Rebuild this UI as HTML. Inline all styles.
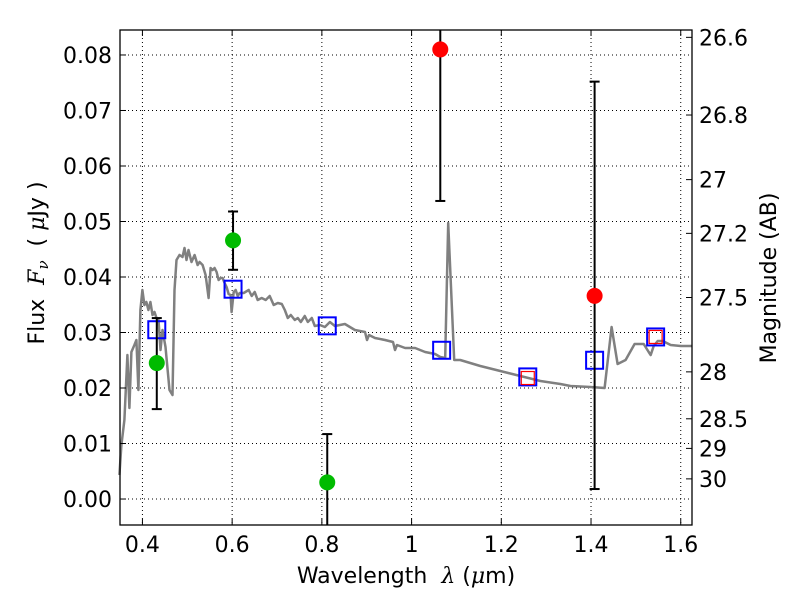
<!DOCTYPE html>
<html><head><meta charset="utf-8"><style>
body{margin:0;background:#fff;}
svg{display:block;font-family:"DejaVu Sans","Liberation Sans",sans-serif;}
</style></head><body>
<svg id="chart" width="800" height="600"></svg>
<script>
// ---- data ----
const xTicks=[0.4,0.6,0.8,1.0,1.2,1.4,1.6];
const xTickLabels=["0.4","0.6","0.8","1","1.2","1.4","1.6"];
const yTicks=[0,0.01,0.02,0.03,0.04,0.05,0.06,0.07,0.08];
const yTickLabels=["0.00","0.01","0.02","0.03","0.04","0.05","0.06","0.07","0.08"];
const magTicks=[26.6,26.8,27,27.2,27.5,28,28.5,29,30];
const magTickLabels=["26.6","26.8","27","27.2","27.5","28","28.5","29","30"];
// SED template curve, pixel-read then converted (lambda um, flux uJy)
const sedPx=[[120,475],[122,445],[125,420],[128,355],[130,408],[132,352],[135,345],[137,340],[139,390],[141,310],[143,290],[145,305],[147,302],[149,310],[151,302],[153,315],[155,312],[157,318],[159,320],[161,350],[163,330],[166,347],[170,390],[173,395],[175,290],[177,260],[180,255],[183,257],[185,248],[187,260],[189,250],[192,262],[195,255],[198,265],[200,262],[203,265],[206,275],[209,298],[211,268],[213,270],[215,268],[217,272],[219,280],[221,278],[223,278],[225,283],[227,287],[229,294],[231,295],[232,312],[234,292],[236,290],[238,296],[240,293],[244,293],[249,290],[252,296],[255,292],[258,300],[262,298],[266,300],[270,296],[274,305],[278,303],[282,304],[285,310],[288,318],[291,315],[295,320],[298,318],[301,322],[305,316],[308,322],[312,318],[315,326],[320,325],[325,327],[330,322],[335,326],[340,325],[345,324],[355,330],[360,331],[365,332],[367,340],[369,335],[375,338],[385,340],[393,342],[395,350],[397,345],[405,348],[415,348],[425,352],[435,354],[440,357],[445,358],[448,223],[454,360],[460,360],[480,366],[500,371],[520,376],[540,381],[560,384],[570,386],[590,387],[604,388],[611,327],[617,364],[625,360],[634,344],[643,344],[648,352],[650,355],[653,346],[657,341],[662,341],[670,345],[680,346],[691,346]];
const sedLambda=sedPx.map(p=>(p[0]-143)/447.5+0.4);
const sedFlux=sedPx.map(p=>(499-p[1])/5550);
// observed points
const greenLambda=[0.432,0.602,0.812];
const greenFlux=[0.0245,0.0466,0.0030];
const greenErrLo=[0.0162,0.0413,-0.0047];
const greenErrHi=[0.0326,0.0518,0.0117];
const redLambda=[1.064,1.408];
const redFlux=[0.0810,0.0366];
const redErrLo=[0.0537,0.0018];
const redErrHi=[0.0910,0.0752];
const modelLambda=[0.432,0.602,0.812,1.067,1.259,1.408,1.544];
const modelFlux=[0.0305,0.0378,0.0312,0.0268,0.0220,0.0250,0.0292];
const redModelLambda=[1.259,1.544];
const redModelFlux=[0.0218,0.0292];

// ---- axes ----
const L=120,R=692,T=30,B=525;
const xmin=0.35,xmax=1.6251,ymin=-0.00468,ymax=0.0845;
const X=v=>L+(v-xmin)/(xmax-xmin)*(R-L);
const Y=v=>B-(v-ymin)/(ymax-ymin)*(B-T);
const magY=m=>Y(Math.pow(10,(23.9-m)/2.5));
const svg=document.getElementById('chart');
const NS="http://www.w3.org/2000/svg";
function mk(tag,attrs,parent){const e=document.createElementNS(NS,tag);for(const k in attrs)e.setAttribute(k,attrs[k]);(parent||svg).appendChild(e);return e;}

// grid
xTicks.forEach((v,i)=>{
  const g=mk('line',{x1:X(v),x2:X(v),y1:T,y2:B,stroke:'#000','stroke-width':1,'stroke-dasharray':'1,3'});
  
  
});
yTicks.forEach(v=>{
  const g=mk('line',{x1:L,x2:R,y1:Y(v),y2:Y(v),stroke:'#000','stroke-width':1,'stroke-dasharray':'1,3'});
  
  
});

// sed curve
const d=sedLambda.map((l,i)=>(i?'L':'M')+X(l).toFixed(1)+','+Y(sedFlux[i]).toFixed(1)).join(' ');
const curve=mk('path',{d:d,fill:'none',stroke:'#808080','stroke-width':2.5,'stroke-linejoin':'round'});



// model squares
modelLambda.forEach((l,i)=>{
  const s=mk('rect',{x:X(l)-8.5,y:Y(modelFlux[i])-8.5,width:17,height:17,fill:'none',stroke:'#0000ff','stroke-width':2});
  
  
});
redModelLambda.forEach((l,i)=>{
  const s=mk('rect',{x:X(l)-6.5,y:Y(redModelFlux[i])-6.5,width:13,height:13,fill:'none',stroke:'#ff0000','stroke-width':1.2});
  
  
});

function errbar(l,lo,hi,name){
  const x=X(l);
  const g=mk('g',{});
  
  
  mk('line',{x1:x,x2:x,y1:Y(lo),y2:Y(hi),stroke:'#000','stroke-width':2},g);
  [lo,hi].forEach(v=>{ if(Y(v)>T&&Y(v)<B) mk('line',{x1:x-5,x2:x+5,y1:Y(v),y2:Y(v),stroke:'#000','stroke-width':2},g);});
}
greenLambda.forEach((l,i)=>errbar(l,Math.max(greenErrLo[i],ymin),greenErrHi[i],'green-error-bar'));
redLambda.forEach((l,i)=>errbar(l,Math.max(redErrLo[i],ymin),Math.min(redErrHi[i],ymax),'red-error-bar'));
greenLambda.forEach((l,i)=>{
  const c=mk('circle',{cx:X(l),cy:Y(greenFlux[i]),r:8,fill:'#00bb00'});
  
  
});
redLambda.forEach((l,i)=>{
  const c=mk('circle',{cx:X(l),cy:Y(redFlux[i]),r:8,fill:'#ff0000'});
  
  
});

// frame
const fr=mk('rect',{x:L,y:T,width:R-L,height:B-T,fill:'none',stroke:'#000','stroke-width':1.3});



// ticks & labels
xTicks.forEach((v,i)=>{
  mk('line',{x1:X(v),x2:X(v),y1:B,y2:B-6,stroke:'#000'});
  mk('line',{x1:X(v),x2:X(v),y1:T,y2:T+6,stroke:'#000'});
  const t=mk('text',{x:X(v),y:B+27,'text-anchor':'middle','font-size':22});
  t.textContent=xTickLabels[i];
  
  
});
yTicks.forEach((v,i)=>{
  mk('line',{x1:L,x2:L+6,y1:Y(v),y2:Y(v),stroke:'#000'});
  const t=mk('text',{x:L-8,y:Y(v)+8,'text-anchor':'end','font-size':22});
  t.textContent=yTickLabels[i];
  
  
});
magTicks.forEach((m,i)=>{
  mk('line',{x1:R,x2:R-6,y1:magY(m),y2:magY(m),stroke:'#000'});
  const t=mk('text',{x:R+7,y:magY(m)+8,'font-size':22});
  t.textContent=magTickLabels[i];
  
  
});

// axis titles
const xt=mk('text',{x:406,y:583,'text-anchor':'middle','font-size':22});
xt.innerHTML='Wavelength &#160;<tspan font-style="italic" font-family="DejaVu Serif, serif">λ</tspan> (<tspan font-style="italic" font-family="DejaVu Serif, serif">μ</tspan>m)';


const yt=mk('text',{x:0,y:0,'text-anchor':'middle','font-size':22,transform:'translate(44,263) rotate(-90)'});
yt.innerHTML='Flux &#160;<tspan font-style="italic" font-family="DejaVu Serif, serif">F</tspan><tspan font-style="italic" font-size="15" dy="4" font-family="DejaVu Serif, serif">ν</tspan><tspan dy="-4"> &#160;( </tspan><tspan font-style="italic" font-family="DejaVu Serif, serif">μ</tspan>Jy )';


const rt=mk('text',{x:0,y:0,'text-anchor':'middle','font-size':22,transform:'translate(776,278) rotate(-90)'});
rt.textContent='Magnitude (AB)';


</script>
</body></html>
